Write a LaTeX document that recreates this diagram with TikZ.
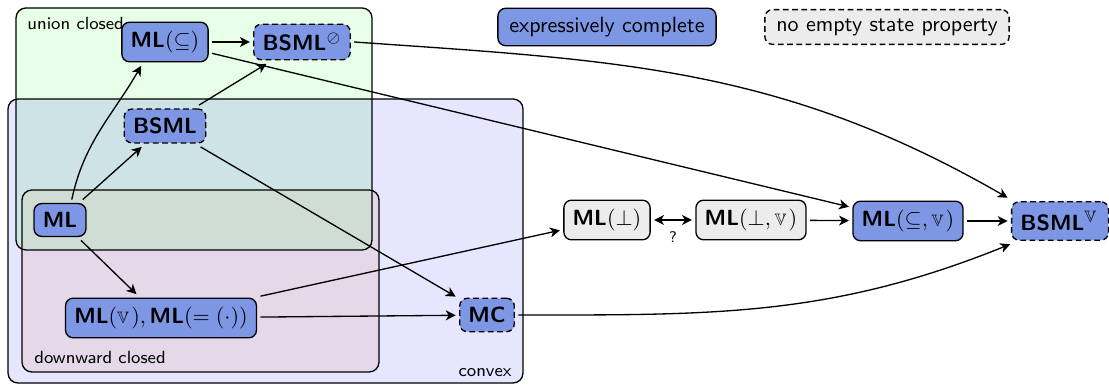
\documentclass[tikz,border=0pt]{standalone}
\usepackage{amssymb}
\usepackage{graphicx}
\usetikzlibrary{arrows.meta}
\renewcommand{\familydefault}{\sfdefault}
\definecolor{nodeblue}{RGB}{125,151,229}
\definecolor{nodegray}{RGB}{236,236,236}
\definecolor{ucgreen}{RGB}{230,255,230}
\definecolor{cvblue}{RGB}{230,230,255}
\definecolor{ucteal}{RGB}{205,227,230}
\definecolor{dcpink}{RGB}{229,216,232}
\definecolor{triplecol}{RGB}{208,221,213}
\newcommand{\ivee}{\mathord{\scalebox{0.75}{$\mathbb{V}$}\kern1pt}}
\tikzset{
  region/.style={rounded corners=4.5pt},
  regionline/.style={draw=black, line width=0.6pt, rounded corners=4.5pt},
  box/.style={draw=black, line width=0.6pt, rounded corners=3.5pt, inner sep=4pt, outer sep=1.8pt, font=\bfseries},
  ec/.style={box, fill=nodeblue},
  ne/.style={box, fill=nodegray},
  nes/.style={dash pattern=on 2.6pt off 1.6pt},
  legendbox/.style={font=\normalfont, inner xsep=5.2pt},
  arr/.style={line width=0.6pt, -{Stealth[length=4.5pt,width=4.5pt,inset=1.3pt]}},
  darr/.style={line width=0.6pt, {Stealth[length=4.5pt,width=4.5pt,inset=1.3pt]}-{Stealth[length=4.5pt,width=4.5pt,inset=1.3pt]}},
  lbl/.style={font=\footnotesize, inner sep=0pt}
}
\begin{document}
\begin{tikzpicture}[x=0.454pt, y=0.454pt]
\useasboundingbox (0,0) rectangle (1109,-385);
% regions
\fill[ucgreen, region] (16,-8) rectangle (372,-250);
\fill[cvblue, region] (8,-99) rectangle (523,-383);
\begin{scope}
  \clip[region] (8,-99) rectangle (523,-383);
  \fill[ucteal, region] (16,-8) rectangle (372,-250);
\end{scope}
\fill[dcpink, region] (22,-190) rectangle (379,-372);
\begin{scope}
  \clip[region] (16,-8) rectangle (372,-250);
  \fill[triplecol, region] (22,-190) rectangle (379,-372);
\end{scope}
\draw[regionline] (16,-8) rectangle (372,-250);
\draw[regionline] (8,-99) rectangle (523,-383);
\draw[regionline] (22,-190) rectangle (379,-372);
\node[lbl, anchor=west] (lunion) at (27,-23) {union closed};
\node[lbl, anchor=west] (ldown) at (34,-357) {downward closed};
\node[lbl, anchor=east] (lconv) at (512,-373) {convex};
% legend
\node[ec, legendbox] (legec) at (607,-27) {expressively complete};
\node[ne, nes, legendbox] (legne) at (887,-27) {no empty state property};
% nodes
\node[ec] (mlsub) at (165,-42) {ML$(\subseteq)$};
\node[ec, nes] (bsmlo) at (302,-42) {BSML$^{\oslash}$};
\node[ec, nes] (bsml) at (165,-126) {BSML};
\node[ec] (ml) at (60,-220) {ML};
\node[ec] (mlv) at (161,-318) {ML$(\ivee),\,$ML$(=(\cdot))$};
\node[ec, nes] (mc) at (487,-315) {MC};
\node[ne] (mlbot) at (607,-220) {ML$(\bot)$};
\node[ne] (mlbotv) at (751,-220) {ML$(\bot,\ivee)$};
\node[ec] (mlsubv) at (908,-221) {ML$(\subseteq,\ivee)$};
\node[ec, nes, minimum width=43.6pt, minimum height=17.5pt] (bsmlv) at (1060,-221) {BSML$^{\ivee}$};
% edges
\draw[arr] (mlsub) -- (bsmlo);
\draw[arr] (mlsub) -- (mlsubv);
\draw[arr] (bsmlo.east) to[out=-4, in=150] (bsmlv.north west);
\draw[arr] (bsml) -- (bsmlo);
\draw[arr] (bsml) -- (mc);
\draw[arr] (ml.60) to[out=78, in=-120] (mlsub.-135);
\draw[arr] (ml) -- (bsml);
\draw[arr] (ml) -- (mlv);
\draw[arr] (mlv) -- (mc);
\draw[arr] (mlv) -- (mlbot);
\draw[darr] (mlbot) -- node[below=5pt, font=\scriptsize, inner sep=0pt] (q) {?} (mlbotv);
\draw[arr] (mlbotv) -- (mlsubv);
\draw[arr] (mlsubv) -- (bsmlv);
\draw[arr] (mc.east) to[out=0, in=-158] (bsmlv.-155);
\end{tikzpicture}
\end{document}
